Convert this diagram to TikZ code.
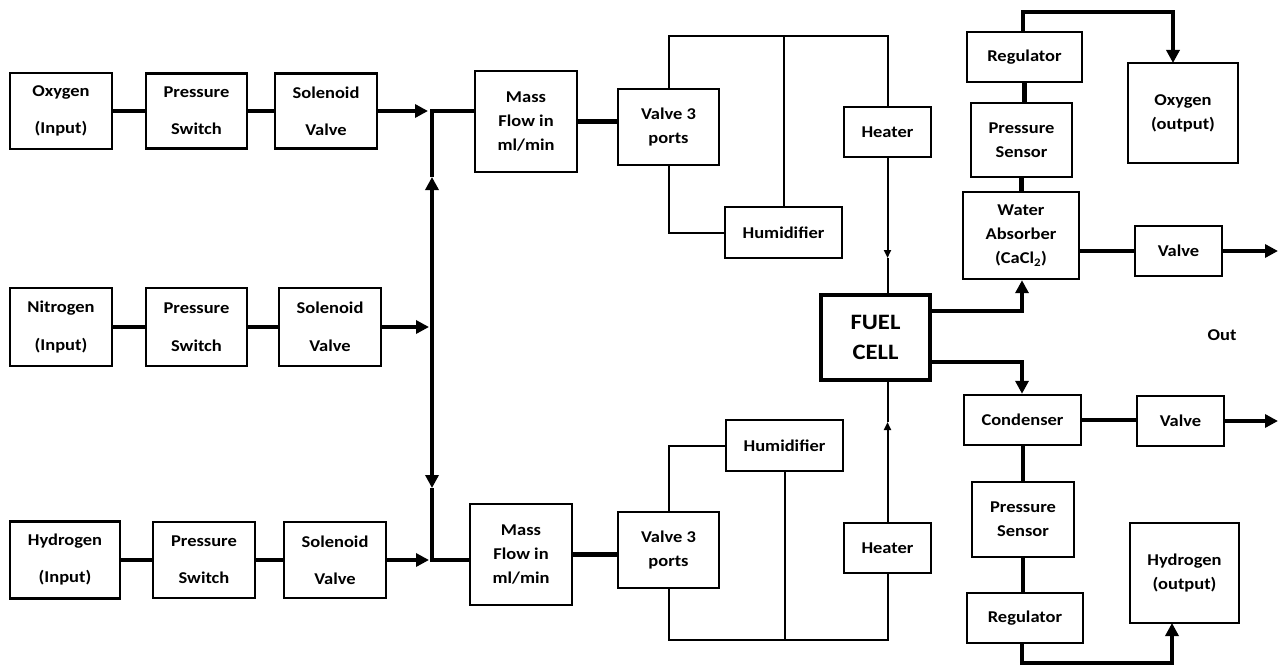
\documentclass[tikz,border=0pt]{standalone}
\usepackage{fontspec}
\setmainfont{Carlito}[FakeStretch=1.12]
\usetikzlibrary{arrows.meta}
\tikzset{
  blk/.style={draw, line width=2.4pt, align=center, inner sep=0pt,
    font=\bfseries\fontsize{16.5}{24}\selectfont},
  pipe/.style={line width=4.5pt},
  wire/.style={line width=2pt},
  tip/.style={-{Triangle[length=13pt,width=13pt]}},
  smalltip/.style={-{Triangle[length=8pt,width=7pt]}}
}
\newcommand\bx[6]{\node[blk, minimum width=#4, minimum height=#5] (#1) at (#2,#3) {#6};}
\begin{document}
\begin{tikzpicture}[x=1pt,y=-1pt]
\fill[white] (0,0) rectangle (1280,669);
\useasboundingbox (0,0) rectangle (1280,669);
% left inputs
\bx{oin}{61}{111}{102}{76}{Oxygen\\[13pt](Input)}
\bx{ps1}{196.5}{111}{101}{75}{Pressure\\[13pt]Switch}
\bx{sv1}{326}{111}{102}{75}{Solenoid\\[13pt]Valve}
\bx{nin}{61}{327}{102}{78}{Nitrogen\\[14pt](Input)}
\bx{ps2}{196.5}{327}{101}{78}{Pressure\\[14pt]Switch}
\bx{sv2}{330}{327}{102}{78}{Solenoid\\[14pt]Valve}
\bx{hin}{65}{560}{110}{77}{Hydrogen\\[13pt](Input)}
\bx{ps3}{204}{560}{102}{76}{Pressure\\[13pt]Switch}
\bx{sv3}{335}{560}{102}{76}{Solenoid\\[13pt]Valve}
% mass flow and valves
\bx{mf1}{526}{121.5}{102}{101}{Mass\\Flow in\\ml/min}
\bx{v1}{668.5}{127}{101}{76}{Valve 3\\ports}
\bx{hum1}{783.5}{232.5}{117}{51}{Humidifier}
\bx{ht1}{887.5}{132}{87}{50}{Heater}
\bx{mf2}{521}{554.5}{102}{101}{Mass\\Flow in\\ml/min}
\bx{v2}{668.5}{550}{101}{76}{Valve 3\\ports}
\bx{hum2}{784.5}{445.5}{117}{51}{Humidifier}
\bx{ht2}{887.5}{548}{87}{50}{Heater}
% fuel cell
\node[blk, line width=4pt, minimum width=109, minimum height=85,
  font=\bfseries\fontsize{22}{30}\selectfont] (fc) at (875.5,337.5) {FUEL\\CELL};
% right side
\bx{rg1}{1024.5}{57}{115}{50}{Regulator}
\bx{pr1}{1021.5}{140}{101}{74}{Pressure\\Sensor}
\bx{wa}{1021}{235.5}{116}{87}{Water\\Absorber\\(CaCl\textsubscript{2})}
\bx{oout}{1183}{113}{110}{100}{Oxygen\\(output)}
\bx{va}{1178.5}{251}{87}{50}{Valve}
\bx{cd}{1022.5}{420}{117}{50}{Condenser}
\bx{vb}{1180.5}{421}{87}{50}{Valve}
\bx{pr2}{1023}{519.5}{102}{75}{Pressure\\Sensor}
\bx{rg2}{1025}{618}{116}{50}{Regulator}
\bx{hout}{1184.5}{573}{109}{100}{Hydrogen\\(output)}
\node[font=\bfseries\fontsize{16.5}{24}\selectfont] (out) at (1222,335) {Out};
% junctions
\coordinate (j1) at (432,111);
\coordinate (j2) at (432,327);
\coordinate (j3) at (432,560);
\coordinate (a1) at (428,111);
\coordinate (a2) at (429,327);
\coordinate (a3) at (429,560);
\coordinate (up) at (432,177);
\coordinate (dn) at (432,488);
% left rows
\draw[pipe] (oin.east) -- (ps1.west);
\draw[pipe] (ps1.east) -- (sv1.west);
\draw[pipe,tip] (sv1.east) -- (a1);
\draw[pipe] (nin.east) -- (ps2.west);
\draw[pipe] (ps2.east) -- (sv2.west);
\draw[pipe,tip] (sv2.east) -- (a2);
\draw[pipe] (hin.east) -- (ps3.west);
\draw[pipe] (ps3.east) -- (sv3.west);
\draw[pipe,tip] (sv3.east) -- (a3);
% bus
\draw[pipe,tip] (j2) -- (up);
\draw[pipe] (up) -- ([yshift=2.25pt]j1);
\draw[pipe,tip] (j2) -- (dn);
\draw[pipe] (dn) -- ([yshift=-2.25pt]j3);
\draw[pipe] (j1) -- (j1 -| mf1.west);
\draw[pipe] (j3) -- (j3 -| mf2.west);
\draw[pipe] (mf1.east) -- (mf1.east -| v1.west);
\draw[pipe] (mf2.east) -- (mf2.east -| v2.west);
% top loop
\coordinate (t1) at (668.5,36);
\coordinate (t2) at (783.5,36);
\coordinate (t3) at (887.5,36);
\draw[wire] (v1.north) -- (t1) -- (t3) -- (ht1.north);
\draw[wire] (t2) -- (hum1.north);
\draw[wire] (v1.south) |- (hum1.west);
\coordinate (h1a) at (887.5,258);
\draw[wire,smalltip] (ht1.south) -- (h1a);
\draw[wire] (h1a) -- (ht1.south |- fc.north);
% bottom loop
\coordinate (bb) at (887.5,640);
\draw[wire] (v2.north) |- (hum2.west);
\draw[wire] (v2.south) |- (bb) -- (ht2.south);
\draw[wire] (hum2.south) -- (hum2.south |- bb);
\coordinate (h2a) at (887.5,422);
\draw[wire,smalltip] (ht2.north) -- (h2a);
\draw[wire] (h2a) -- (ht2.north |- fc.south);
% right top
\draw[pipe] (rg1.south) -- (rg1.south |- pr1.north);
\draw[pipe] (pr1.south) -- (pr1.south |- wa.north);
\coordinate (r1) at (1023,12);
\coordinate (r2) at (1173,12);
\coordinate (r3) at (1173,63);
\draw[pipe] (rg1.north -| r1) -- (r1) -- ([xshift=2.25pt]r2);
\draw[pipe,tip] (r2) -- (r3);
\draw[pipe] (wa.east |- va.west) -- (va.west);
\coordinate (e1) at (1278,251);
\draw[pipe,tip] (va.east) -- (e1);
% fuel cell outputs
\coordinate (k1) at (1022,311);
\coordinate (k2) at (1022,362);
\draw[pipe] ([yshift=26.5pt]fc.east) -- ([xshift=2.25pt]k1);
\draw[pipe,tip] (k1) -- (k1 |- wa.south);
\draw[pipe] ([yshift=-24.5pt]fc.east) -- ([xshift=2.25pt]k2);
\draw[pipe,tip] (k2) -- (k2 |- cd.north);
% right bottom
\draw[pipe] (cd.east) -- (cd.east -| vb.west);
\coordinate (e2) at (1278,421);
\draw[pipe,tip] (vb.east) -- (e2);
\draw[pipe] (cd.south -| pr2.north) -- (pr2.north);
\draw[pipe] (pr2.south) -- (pr2.south |- rg2.north);
\coordinate (s1) at (1022,663);
\coordinate (s2) at (1172,663);
\coordinate (s3) at (1172,623);
\draw[pipe] (rg2.south -| s1) -- (s1) -- ([xshift=2.25pt]s2);
\draw[pipe,tip] (s2) -- (s3);
\end{tikzpicture}
\end{document}
